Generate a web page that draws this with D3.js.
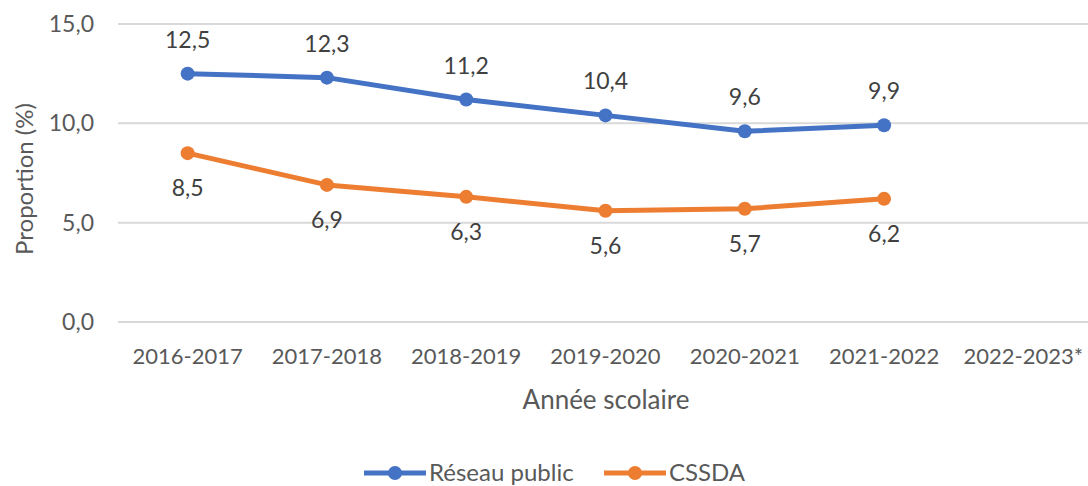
<!DOCTYPE html>
<html>
  <head>
    <script src="https://d3js.org/d3.v7.min.js"></script>
    <style>
      body { margin: 0; background: #fff; }
      text { font-family: Lato, "Open Sans", sans-serif; fill: #595959; }
    </style>
  </head>
  <body>
    <svg id="canvas" width="1088" height="486"></svg>
  </body>
  <script>
    const years = ['2016-2017', '2017-2018', '2018-2019', '2019-2020', '2020-2021', '2021-2022', '2022-2023*']
    const reseauPublic = [12.5, 12.3, 11.2, 10.4, 9.6, 9.9]
    const cssda = [8.5, 6.9, 6.3, 5.6, 5.7, 6.2]
    const yTicks = [0, 5, 10, 15]

    const blue = '#4472C4'
    const orange = '#ED7D31'
    const fmt = v => d3.format('.1f')(v).replace('.', ',')

    const svg = d3.select('#canvas')
    const plotLeft = 118, plotRight = 1093, plotTop = 24, plotBottom = 322

    const x = d3.scaleBand().domain(years).range([plotLeft, plotRight])
    const y = d3.scaleLinear().domain([0, 15]).range([plotBottom, plotTop])
    const cx = d => x(d) + x.bandwidth() / 2

    // gridlines
    svg.append('g').selectAll('line').data(yTicks).join('line')
      .attr('x1', plotLeft).attr('x2', 1088)
      .attr('y1', d => y(d)).attr('y2', d => y(d))
      .attr('stroke', '#d9d9d9').attr('stroke-width', 2)

    // y tick labels
    svg.append('g').selectAll('text').data(yTicks).join('text')
      .attr('x', 94).attr('y', d => y(d)).attr('dy', '0.35em')
      .attr('text-anchor', 'end').style('font-size', '23px')
      .text(fmt)

    // x tick labels
    svg.append('g').selectAll('text').data(years).join('text')
      .attr('x', cx).attr('y', 364)
      .attr('text-anchor', 'middle').style('font-size', '22px')
      .text(d => d)

    // axis titles
    svg.append('text').attr('x', 606).attr('y', 409)
      .attr('text-anchor', 'middle').style('font-size', '26px')
      .text('Année scolaire')
    svg.append('text').attr('transform', 'translate(33,179) rotate(-90)')
      .attr('text-anchor', 'middle').style('font-size', '24px')
      .text('Proportion (%)')

    const line = d3.line().x((d, i) => cx(years[i])).y(d => y(d))

    const drawSeries = (vals, color, labelOffset) => {
      const g = svg.append('g')
      g.append('path').datum(vals).attr('d', line)
        .attr('fill', 'none').attr('stroke', color).attr('stroke-width', 5)
        .attr('stroke-linejoin', 'round')
      g.selectAll('circle').data(vals).join('circle')
        .attr('cx', (d, i) => cx(years[i])).attr('cy', d => y(d))
        .attr('r', 7).attr('fill', color)
      g.selectAll('text').data(vals).join('text')
        .attr('x', (d, i) => cx(years[i])).attr('y', d => y(d) + labelOffset)
        .attr('dy', '0.35em').attr('text-anchor', 'middle')
        .style('font-size', '23px').style('fill', '#404040')
        .text(fmt)
    }
    drawSeries(reseauPublic, blue, -34)
    drawSeries(cssda, orange, 35)

    // legend
    const legend = [
      { name: 'Réseau public', color: blue, x: 364 },
      { name: 'CSSDA', color: orange, x: 604 }
    ]
    const lg = svg.append('g').selectAll('g').data(legend).join('g')
      .attr('transform', d => `translate(${d.x},473)`)
    lg.append('line').attr('x1', 0).attr('x2', 62)
      .attr('stroke', d => d.color).attr('stroke-width', 5)
    lg.append('circle').attr('cx', 31).attr('r', 7).attr('fill', d => d.color)
    lg.append('text').attr('x', 65).attr('dy', '0.35em')
      .style('font-size', '24px').text(d => d.name)
  </script>
</html>
